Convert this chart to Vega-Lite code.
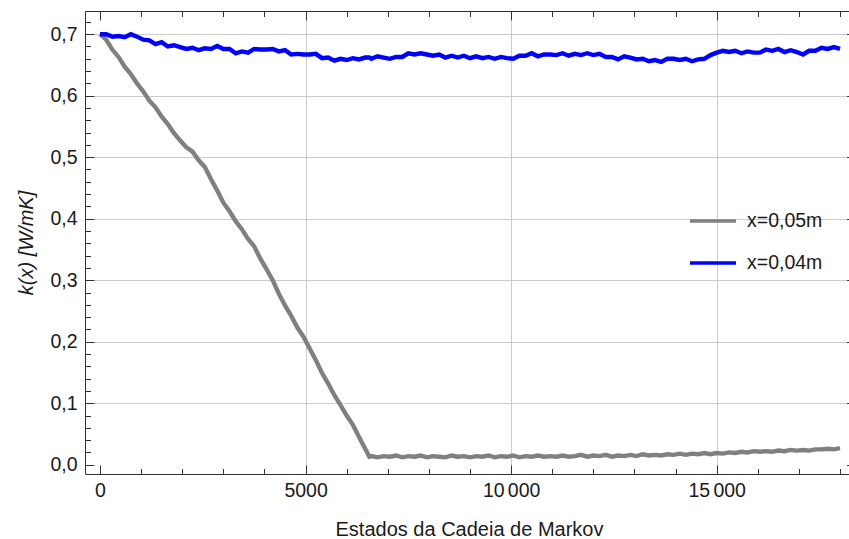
{
  "$schema": "https://vega.github.io/schema/vega-lite/v6.json",
  "width": 764,
  "height": 463,
  "autosize": {"type": "none"},
  "padding": {"left": 85, "top": 11, "right": 0, "bottom": 65},
  "background": "white",
  "config": {
    "view": {"stroke": null},
    "font": "Liberation Sans",
    "axis": {
      "labelFont": "Liberation Sans",
      "titleFont": "Liberation Sans",
      "labelColor": "#1a1a1a",
      "titleColor": "#1a1a1a",
      "domainColor": "#333333",
      "tickColor": "#333333",
      "gridColor": "#cccccc",
      "labelFontSize": 19.5,
      "titleFontSize": 20,
      "titleFontWeight": "normal"
    }
  },
  "data": {
    "values": [
      {"x": 0, "g": 0.700, "b": 0.700},
      {"x": 150, "g": 0.691, "b": 0.700},
      {"x": 300, "g": 0.675, "b": 0.696},
      {"x": 450, "g": 0.663, "b": 0.697},
      {"x": 600, "g": 0.647, "b": 0.695},
      {"x": 750, "g": 0.635, "b": 0.700},
      {"x": 900, "g": 0.620, "b": 0.696},
      {"x": 1050, "g": 0.607, "b": 0.691},
      {"x": 1200, "g": 0.592, "b": 0.690},
      {"x": 1350, "g": 0.581, "b": 0.684},
      {"x": 1500, "g": 0.566, "b": 0.687},
      {"x": 1650, "g": 0.554, "b": 0.680},
      {"x": 1800, "g": 0.539, "b": 0.682},
      {"x": 1950, "g": 0.527, "b": 0.679},
      {"x": 2100, "g": 0.516, "b": 0.676},
      {"x": 2250, "g": 0.509, "b": 0.678},
      {"x": 2400, "g": 0.495, "b": 0.674},
      {"x": 2550, "g": 0.484, "b": 0.677},
      {"x": 2700, "g": 0.464, "b": 0.676},
      {"x": 2850, "g": 0.446, "b": 0.681},
      {"x": 3000, "g": 0.426, "b": 0.676},
      {"x": 3150, "g": 0.412, "b": 0.676},
      {"x": 3300, "g": 0.396, "b": 0.669},
      {"x": 3450, "g": 0.383, "b": 0.672},
      {"x": 3600, "g": 0.367, "b": 0.670},
      {"x": 3750, "g": 0.355, "b": 0.676},
      {"x": 3900, "g": 0.335, "b": 0.675},
      {"x": 4050, "g": 0.318, "b": 0.675},
      {"x": 4200, "g": 0.300, "b": 0.676},
      {"x": 4350, "g": 0.278, "b": 0.672},
      {"x": 4500, "g": 0.259, "b": 0.674},
      {"x": 4650, "g": 0.242, "b": 0.667},
      {"x": 4800, "g": 0.223, "b": 0.668},
      {"x": 4950, "g": 0.208, "b": 0.667},
      {"x": 5100, "g": 0.189, "b": 0.667},
      {"x": 5250, "g": 0.170, "b": 0.668},
      {"x": 5400, "g": 0.149, "b": 0.661},
      {"x": 5550, "g": 0.132, "b": 0.662},
      {"x": 5700, "g": 0.113, "b": 0.657},
      {"x": 5850, "g": 0.097, "b": 0.660},
      {"x": 6000, "g": 0.080, "b": 0.658},
      {"x": 6150, "g": 0.065, "b": 0.661},
      {"x": 6300, "g": 0.045, "b": 0.659},
      {"x": 6450, "g": 0.026, "b": 0.662},
      {"x": 6550, "g": 0.013, "b": 0.662},
      {"x": 6600, "g": 0.014, "b": 0.660},
      {"x": 6750, "g": 0.012, "b": 0.664},
      {"x": 6900, "g": 0.014, "b": 0.662},
      {"x": 7050, "g": 0.013, "b": 0.660},
      {"x": 7200, "g": 0.015, "b": 0.663},
      {"x": 7350, "g": 0.012, "b": 0.663},
      {"x": 7500, "g": 0.014, "b": 0.669},
      {"x": 7650, "g": 0.013, "b": 0.667},
      {"x": 7800, "g": 0.015, "b": 0.669},
      {"x": 7950, "g": 0.012, "b": 0.667},
      {"x": 8100, "g": 0.014, "b": 0.665},
      {"x": 8250, "g": 0.013, "b": 0.667},
      {"x": 8400, "g": 0.012, "b": 0.662},
      {"x": 8550, "g": 0.015, "b": 0.665},
      {"x": 8700, "g": 0.013, "b": 0.662},
      {"x": 8850, "g": 0.014, "b": 0.665},
      {"x": 9000, "g": 0.012, "b": 0.661},
      {"x": 9150, "g": 0.014, "b": 0.664},
      {"x": 9300, "g": 0.013, "b": 0.661},
      {"x": 9450, "g": 0.015, "b": 0.663},
      {"x": 9600, "g": 0.012, "b": 0.660},
      {"x": 9750, "g": 0.014, "b": 0.663},
      {"x": 9900, "g": 0.013, "b": 0.661},
      {"x": 10050, "g": 0.015, "b": 0.660},
      {"x": 10200, "g": 0.012, "b": 0.665},
      {"x": 10350, "g": 0.014, "b": 0.665},
      {"x": 10500, "g": 0.013, "b": 0.669},
      {"x": 10650, "g": 0.015, "b": 0.664},
      {"x": 10800, "g": 0.013, "b": 0.667},
      {"x": 10950, "g": 0.014, "b": 0.667},
      {"x": 11100, "g": 0.013, "b": 0.666},
      {"x": 11250, "g": 0.015, "b": 0.669},
      {"x": 11400, "g": 0.013, "b": 0.665},
      {"x": 11550, "g": 0.014, "b": 0.668},
      {"x": 11700, "g": 0.016, "b": 0.666},
      {"x": 11850, "g": 0.013, "b": 0.669},
      {"x": 12000, "g": 0.015, "b": 0.666},
      {"x": 12150, "g": 0.014, "b": 0.668},
      {"x": 12300, "g": 0.016, "b": 0.663},
      {"x": 12450, "g": 0.013, "b": 0.663},
      {"x": 12600, "g": 0.015, "b": 0.659},
      {"x": 12750, "g": 0.014, "b": 0.664},
      {"x": 12900, "g": 0.016, "b": 0.662},
      {"x": 13050, "g": 0.014, "b": 0.659},
      {"x": 13200, "g": 0.017, "b": 0.660},
      {"x": 13350, "g": 0.015, "b": 0.656},
      {"x": 13500, "g": 0.016, "b": 0.658},
      {"x": 13650, "g": 0.015, "b": 0.655},
      {"x": 13800, "g": 0.017, "b": 0.660},
      {"x": 13950, "g": 0.016, "b": 0.660},
      {"x": 14100, "g": 0.018, "b": 0.658},
      {"x": 14250, "g": 0.016, "b": 0.660},
      {"x": 14400, "g": 0.018, "b": 0.656},
      {"x": 14550, "g": 0.017, "b": 0.659},
      {"x": 14700, "g": 0.019, "b": 0.660},
      {"x": 14850, "g": 0.017, "b": 0.666},
      {"x": 15000, "g": 0.019, "b": 0.670},
      {"x": 15150, "g": 0.018, "b": 0.673},
      {"x": 15300, "g": 0.020, "b": 0.671},
      {"x": 15450, "g": 0.019, "b": 0.673},
      {"x": 15600, "g": 0.021, "b": 0.669},
      {"x": 15750, "g": 0.020, "b": 0.672},
      {"x": 15900, "g": 0.022, "b": 0.670},
      {"x": 16050, "g": 0.021, "b": 0.670},
      {"x": 16200, "g": 0.022, "b": 0.675},
      {"x": 16350, "g": 0.021, "b": 0.673},
      {"x": 16500, "g": 0.023, "b": 0.676},
      {"x": 16650, "g": 0.022, "b": 0.671},
      {"x": 16800, "g": 0.024, "b": 0.674},
      {"x": 16950, "g": 0.023, "b": 0.671},
      {"x": 17100, "g": 0.024, "b": 0.667},
      {"x": 17250, "g": 0.023, "b": 0.673},
      {"x": 17400, "g": 0.025, "b": 0.673},
      {"x": 17550, "g": 0.025, "b": 0.678},
      {"x": 17700, "g": 0.026, "b": 0.676},
      {"x": 17850, "g": 0.025, "b": 0.679},
      {"x": 18000, "g": 0.027, "b": 0.676}
    ]
  },
  "transform": [{"fold": ["g", "b"], "as": ["s", "k"]}],
  "layer": [
    {
      "mark": {"type": "line", "strokeOpacity": 0},
      "encoding": {
        "x": {"field": "x", "type": "quantitative", "scale": {"domain": [-365, 18218], "nice": false, "zero": false},
          "axis": {"orient": "bottom", "values": [5000, 10000, 15000], "grid": true, "gridWidth": 1, "labels": false, "ticks": false, "domain": false, "title": null}},
        "y": {"field": "k", "type": "quantitative", "scale": {"domain": [-0.0151, 0.7377], "nice": false, "zero": false},
          "axis": {"orient": "left", "values": [0.1, 0.2, 0.3, 0.4, 0.5, 0.6, 0.7], "grid": true, "gridWidth": 1, "labels": false, "ticks": false, "domain": false, "title": null}}
      }
    },
    {
      "mark": {"type": "line", "strokeWidth": 4.4, "clip": true},
      "encoding": {
        "x": {"field": "x", "type": "quantitative", "scale": {"domain": [-365, 18218], "nice": false, "zero": false},
          "axis": {"orient": "bottom", "values": [0, 5000, 10000, 15000], "grid": false, "ticks": false, "domain": true, "domainWidth": 1,
            "labelPadding": 7.5, "labelFlush": false, "labelOverlap": false,
            "labelExpr": "datum.value >= 10000 ? replace(format(datum.value, ','), ',', '\u2006') : format(datum.value, 'd')",
            "title": "Estados da Cadeia de Markov", "titleX": 384, "titleY": 61, "titleBaseline": "alphabetic", "titleAlign": "center"}},
        "y": {"field": "k", "type": "quantitative", "scale": {"domain": [-0.0151, 0.7377], "nice": false, "zero": false},
          "axis": {"orient": "left", "values": [0, 0.1, 0.2, 0.3, 0.4, 0.5, 0.6, 0.7], "grid": false, "ticks": false, "domain": true, "domainWidth": 1,
            "labelPadding": 8, "labelFlush": false, "labelOverlap": false,
            "labelExpr": "replace(format(datum.value, '.1f'), '.', ',')",
            "title": "k(x) [W/mK]", "titleFontStyle": "italic", "titleX": -53, "titleY": 231.5, "titleAngle": -90, "titleBaseline": "alphabetic", "titleAlign": "center"}},
        "color": {"field": "s", "type": "nominal", "scale": {"domain": ["g", "b"], "range": ["#808080", "#0000ff"]},
          "legend": {"orient": "none", "legendX": 603, "legendY": 185, "title": null, "symbolType": "stroke", "symbolSize": 2116, "symbolStrokeWidth": 3.3,
            "labelFontSize": 19.5, "labelFont": "Liberation Sans", "labelColor": "#1a1a1a", "labelOffset": 9, "rowPadding": 7, "padding": 0,
            "labelExpr": "datum.value == 'g' ? 'x=0,05m' : 'x=0,04m'"}}
      }
    },
    {
      "mark": {"type": "line", "strokeOpacity": 0},
      "encoding": {
        "x": {"field": "x", "type": "quantitative", "scale": {"domain": [-365, 18218], "nice": false, "zero": false},
          "axis": {"orient": "bottom", "values": [0, 5000, 10000, 15000], "grid": false, "labels": false, "ticks": true, "tickSize": -9, "tickWidth": 1, "domain": false, "title": null}},
        "y": {"field": "k", "type": "quantitative", "scale": {"domain": [-0.0151, 0.7377], "nice": false, "zero": false},
          "axis": {"orient": "left", "values": [0, 0.1, 0.2, 0.3, 0.4, 0.5, 0.6, 0.7], "grid": false, "labels": false, "ticks": true, "tickSize": -9, "tickWidth": 1, "domain": false, "title": null}}
      }
    },
    {
      "mark": {"type": "line", "strokeOpacity": 0},
      "encoding": {
        "x": {"field": "x", "type": "quantitative", "scale": {"domain": [-365, 18218], "nice": false, "zero": false},
          "axis": {"orient": "bottom", "values": [1000, 2000, 3000, 4000, 6000, 7000, 8000, 9000, 11000, 12000, 13000, 14000, 16000, 17000, 18000], "grid": false, "labels": false, "ticks": true, "tickSize": -5.5, "tickWidth": 1, "domain": false, "title": null}},
        "y": {"field": "k", "type": "quantitative", "scale": {"domain": [-0.0151, 0.7377], "nice": false, "zero": false},
          "axis": {"orient": "left", "values": [0.02, 0.04, 0.06, 0.08, 0.12, 0.14, 0.16, 0.18, 0.22, 0.24, 0.26, 0.28, 0.32, 0.34, 0.36, 0.38, 0.42, 0.44, 0.46, 0.48, 0.52, 0.54, 0.56, 0.58, 0.62, 0.64, 0.66, 0.68, 0.72], "grid": false, "labels": false, "ticks": true, "tickSize": -5.5, "tickWidth": 1, "domain": false, "title": null}}
      }
    },
    {
      "mark": {"type": "line", "strokeOpacity": 0},
      "encoding": {
        "x": {"field": "x", "type": "quantitative", "scale": {"domain": [-365, 18218], "nice": false, "zero": false},
          "axis": {"orient": "top", "values": [0, 5000, 10000, 15000], "grid": false, "labels": false, "ticks": true, "tickSize": -9, "tickWidth": 1, "domain": true, "domainWidth": 1, "title": null}},
        "y": {"field": "k", "type": "quantitative", "scale": {"domain": [-0.0151, 0.7377], "nice": false, "zero": false},
          "axis": {"orient": "right", "values": [0, 0.1, 0.2, 0.3, 0.4, 0.5, 0.6, 0.7], "grid": false, "labels": false, "ticks": true, "tickSize": -2.5, "tickWidth": 1, "domain": false, "title": null}}
      }
    },
    {
      "mark": {"type": "line", "strokeOpacity": 0},
      "encoding": {
        "x": {"field": "x", "type": "quantitative", "scale": {"domain": [-365, 18218], "nice": false, "zero": false},
          "axis": {"orient": "top", "values": [1000, 2000, 3000, 4000, 6000, 7000, 8000, 9000, 11000, 12000, 13000, 14000, 16000, 17000, 18000], "grid": false, "labels": false, "ticks": true, "tickSize": -5.5, "tickWidth": 1, "domain": false, "title": null}},
        "y": {"field": "k", "type": "quantitative", "scale": {"domain": [-0.0151, 0.7377], "nice": false, "zero": false}, "axis": null}
      }
    }
  ],
  "resolve": {"axis": {"x": "independent", "y": "independent"}}
}
